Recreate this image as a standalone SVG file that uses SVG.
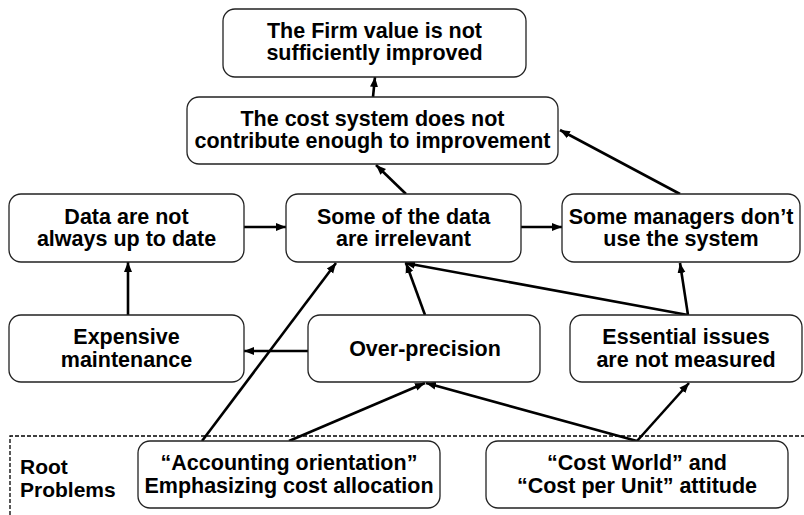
<svg xmlns="http://www.w3.org/2000/svg" width="804" height="515" viewBox="0 0 804 515">
<defs>
<marker id="ah" markerUnits="userSpaceOnUse" markerWidth="12" markerHeight="10" refX="10" refY="5" orient="auto">
<path d="M0,1 L10,5 L0,9 Z" fill="#000"/>
</marker>
<style>
.box{fill:#fff;stroke:#222;stroke-width:1.3}
.t{font-family:"Liberation Sans",Arial,sans-serif;font-weight:bold;font-size:21.5px;fill:#000;text-anchor:middle}
.r{font-family:"Liberation Sans",Arial,sans-serif;font-weight:bold;font-size:21px;fill:#000}
.c{stroke:#000;stroke-width:2.6;fill:none;marker-end:url(#ah)}
.d{stroke:#000;stroke-width:1.3;fill:none;stroke-dasharray:4,2}
</style>
</defs>
<rect width="804" height="515" fill="#fff"/>
<g id="root-area">
<path class="d" d="M10,515 L10,436 L804,436"/>
<text class="r" x="20" y="474">Root</text>
<text class="r" x="20" y="497">Problems</text>
</g>
<g id="connectors">
<line class="c" x1="373" y1="97" x2="375" y2="77"/>
<line class="c" x1="406" y1="194" x2="376" y2="165"/>
<line class="c" x1="680" y1="194" x2="560" y2="130"/>
<line class="c" x1="244" y1="227" x2="286" y2="227"/>
<line class="c" x1="521" y1="227" x2="562" y2="227"/>
<line class="c" x1="128" y1="315" x2="128" y2="262"/>
<line class="c" x1="308" y1="351" x2="244" y2="351"/>
<line class="c" x1="425" y1="315" x2="406" y2="263"/>
<line class="c" x1="688" y1="315" x2="405" y2="263"/>
<line class="c" x1="688" y1="315" x2="680" y2="263"/>
<line class="c" x1="202" y1="441" x2="336" y2="263"/>
<line class="c" x1="289" y1="441" x2="425" y2="383"/>
<line class="c" x1="637" y1="441" x2="426" y2="383"/>
<line class="c" x1="637" y1="441" x2="689" y2="383"/>
</g>
<g id="n-firm"><rect class="box" x="223" y="9" width="303" height="68" rx="12"/>
<text class="t" x="374.5" y="38">The Firm value is not</text><text class="t" x="374.5" y="60">sufficiently improved</text></g>
<g id="n-cost"><rect class="box" x="187" y="97" width="371" height="67" rx="12"/>
<text class="t" x="372.5" y="126">The cost system does not</text><text class="t" x="372.5" y="148">contribute enough to improvement</text></g>
<g id="n-data"><rect class="box" x="9" y="194" width="235" height="68" rx="12"/>
<text class="t" x="126.5" y="224">Data are not</text><text class="t" x="126.5" y="246">always up to date</text></g>
<g id="n-irrelevant"><rect class="box" x="286" y="194" width="235" height="68" rx="12"/>
<text class="t" x="403.5" y="224">Some of the data</text><text class="t" x="403.5" y="246">are irrelevant</text></g>
<g id="n-managers"><rect class="box" x="562" y="194" width="238" height="68" rx="12"/>
<text class="t" x="681" y="224">Some managers don’t</text><text class="t" x="681" y="246">use the system</text></g>
<g id="n-expensive"><rect class="box" x="9" y="315" width="235" height="67" rx="12"/>
<text class="t" x="126.5" y="344">Expensive</text><text class="t" x="126.5" y="367">maintenance</text></g>
<g id="n-overprecision"><rect class="box" x="308" y="315" width="232" height="67" rx="12"/>
<text class="t" x="425" y="356">Over-precision</text></g>
<g id="n-essential"><rect class="box" x="570" y="315" width="232" height="67" rx="12"/>
<text class="t" x="686" y="344">Essential issues</text><text class="t" x="686" y="367">are not measured</text></g>
<g id="n-accounting"><rect class="box" x="138" y="441" width="302" height="67" rx="12"/>
<text class="t" x="289" y="470">“Accounting orientation”</text><text class="t" x="289" y="493">Emphasizing cost allocation</text></g>
<g id="n-costworld"><rect class="box" x="486" y="441" width="302" height="67" rx="12"/>
<text class="t" x="637" y="470">“Cost World” and</text><text class="t" x="637" y="493">“Cost per Unit” attitude</text></g>
</svg>
